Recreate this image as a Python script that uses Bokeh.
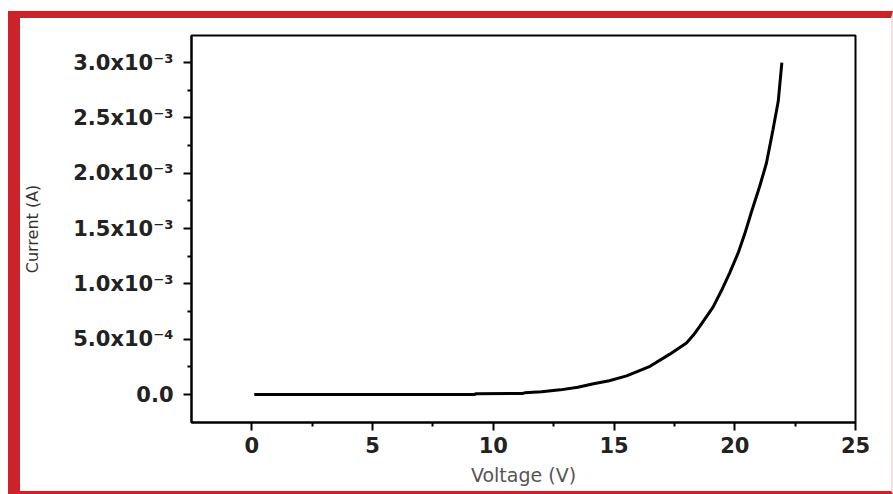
from bokeh.plotting import figure
from bokeh.models import Range1d, FixedTicker, CustomJSTickFormatter
from bokeh.embed import file_html
from bokeh.resources import INLINE

# ---- data ----
voltage = [0.1, 2.0, 4.0, 6.0, 8.0, 9.2, 9.3, 11.2, 11.3, 12.0, 12.77, 13.5,
           14.15, 14.8, 15.52, 16.49, 17.31, 18.0, 18.28, 18.55, 19.1, 19.45,
           19.79, 20.14, 20.41, 20.69, 21.03, 21.31, 21.58, 21.8, 21.95]
current = [0.0, 0.0, 0.0, 0.0, 0.0, 0.0, 0.000007, 0.000009, 0.000015, 0.000025,
           0.000042, 0.000065, 0.000097, 0.000125, 0.000168, 0.000255, 0.000365,
           0.000465, 0.000535, 0.000615, 0.00079, 0.00094, 0.0011, 0.00128,
           0.00145, 0.00165, 0.00188, 0.00209, 0.00239, 0.00265, 0.003]

x_ticks = [0, 5, 10, 15, 20, 25]
x_minor = [2.5, 7.5, 12.5, 17.5, 22.5]
y_ticks = [0.0, 0.0005, 0.001, 0.0015, 0.002, 0.0025, 0.003]
y_minor = [0.00025, 0.00075, 0.00125, 0.00175, 0.00225, 0.00275]
y_tick_labels = ["0.0", "5.0x10\u207b\u2074", "1.0x10\u207b\u00b3", "1.5x10\u207b\u00b3",
                 "2.0x10\u207b\u00b3", "2.5x10\u207b\u00b3", "3.0x10\u207b\u00b3"]

RED = "#cc2229"

# total box (border included) 885 x 483, placed at (8, 11)
p = figure(width=885, height=483,
           x_range=Range1d(-2.5, 25), y_range=Range1d(-0.000253, 0.003245),
           output_backend="svg", toolbar_location=None,
           min_border_left=170, min_border_right=50, min_border_top=17,
           min_border_bottom=79,
           styles={"border-left": f"12px solid {RED}",
                   "border-top": f"7px solid {RED}",
                   "border-bottom": f"3px solid {RED}",
                   "border-right": "2px solid #f8e0e0",
                   "margin-top": "11px",
                   "margin-left": "8px"})

p.line(voltage, current, line_color="black", line_width=3)

p.grid.visible = False
p.outline_line_color = "black"
p.outline_line_width = 2

for ax in (p.xaxis[0], p.yaxis[0]):
    ax.axis_line_width = 2
    ax.axis_line_color = "black"
    ax.major_tick_line_width = 2
    ax.minor_tick_line_width = 2
    ax.major_tick_in = 0
    ax.major_tick_out = 8
    ax.minor_tick_in = 0
    ax.minor_tick_out = 4
    ax.major_label_text_font = "DejaVu Sans"
    ax.major_label_text_font_style = "bold"
    ax.major_label_text_font_size = "21px"
    ax.major_label_text_color = "#222222"
    ax.axis_label_text_font = "DejaVu Sans"
    ax.axis_label_text_font_style = "normal"

p.xaxis.ticker = FixedTicker(ticks=x_ticks, minor_ticks=x_minor)
p.yaxis.ticker = FixedTicker(ticks=y_ticks, minor_ticks=y_minor)
p.yaxis.formatter = CustomJSTickFormatter(
    args=dict(tvals=y_ticks, labels=y_tick_labels),
    code="""
    let best = 0, d = Infinity;
    for (let i = 0; i < tvals.length; i++) {
        const e = Math.abs(tvals[i] - tick);
        if (e < d) { d = e; best = i; }
    }
    return labels[best];
    """)

p.xaxis.axis_label = "Voltage (V)"
p.xaxis.axis_label_text_font_size = "19px"
p.xaxis.axis_label_text_color = "#555555"
p.xaxis.major_label_standoff = 6
p.xaxis.axis_label_standoff = 8

p.yaxis.axis_label = "Current (A)"
p.yaxis.axis_label_text_font_size = "16px"
p.yaxis.axis_label_text_color = "#333333"
p.yaxis.major_label_standoff = 10
p.yaxis.axis_label_standoff = 28

open("out.html", "w").write(file_html(p, INLINE))
